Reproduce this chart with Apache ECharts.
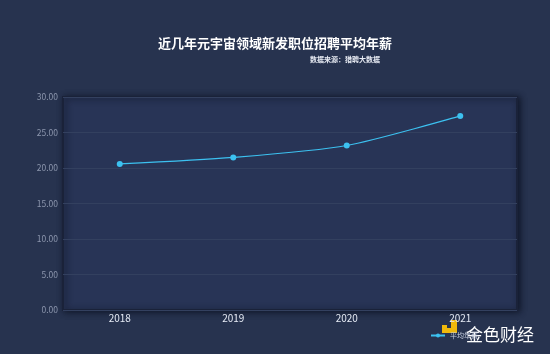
<!DOCTYPE html>
<html>

<head>
	<meta charset="UTF-8">
	<title></title>
	<style>
		html, body {
			margin: 0;
			padding: 0;
			background: #27334f;
		}
		div {
			width: 550px;
			height: 354px;
		}
	</style>
	<script src="https://cdn.jsdelivr.net/npm/echarts@6/dist/echarts.min.js"></script>
</head>

<body>
	<div id="chart1"></div>
	<script>
		var years = ['2018', '2019', '2020', '2021'];
		var salary = [20.57, 21.49, 23.17, 27.34];	// 万元
		var yTicks = [0, 5, 10, 15, 20, 25, 30];

		var myChart = echarts.init(document.getElementById('chart1'));
		myChart.setOption({
			animation: false,
			backgroundColor: '#27334f',
			textStyle: {
				fontFamily: '"Noto Sans CJK SC", "Noto Sans", sans-serif'
			},
			title: [
				{
					text: '近几年元宇宙领域新发职位招聘平均年薪',
					left: 'center',
					top: 32,
					textStyle: {
						color: '#ffffff',
						fontSize: 13,
						fontWeight: 'bold'
					}
				},
				{
					text: '数据来源：猎聘大数据',
					left: 305,
					top: 51,
					textStyle: {
						color: '#e8ecf4',
						fontSize: 7,
						fontWeight: 'bold'
					}
				}
			],
			legend: {
				left: 425,
				top: 327,
				itemWidth: 14,
				itemHeight: 5,
				itemGap: 4,
				textStyle: {
					color: '#c8d0e0',
					fontSize: 7
				},
				data: ['平均年薪']
			},
			grid: {
				left: 63,
				right: 33,
				top: 97,
				bottom: 44,
				show: true,
				backgroundColor: '#283456',
				borderColor: '#1a2239',
				borderWidth: 2,
				shadowColor: 'rgba(10, 15, 30, 0.8)',
				shadowBlur: 6,
				shadowOffsetX: 2,
				shadowOffsetY: 1
			},
			xAxis: {
				type: 'category',
				data: years,
				boundaryGap: true,
				axisLine: { show: false },
				axisTick: { show: false },
				axisLabel: {
					color: '#e6ebf5',
					fontSize: 10,
					margin: 3
				}
			},
			yAxis: {
				type: 'value',
				min: yTicks[0],
				max: yTicks[yTicks.length - 1],
				interval: 5,
				axisLine: { show: false },
				axisTick: { show: false },
				axisLabel: {
					color: '#8c96ad',
					fontSize: 8.5,
					margin: 5,
					formatter: function (v) {
						return v.toFixed(2);
					}
				},
				splitLine: {
					lineStyle: {
						color: '#33405f',
						width: 1
					}
				}
			},
			series: [
				{
					name: '平均年薪',
					type: 'line',
					data: salary,
					smooth: 0.25,
					symbol: 'circle',
					symbolSize: 6,
					itemStyle: {
						color: '#3cc1f0'
					},
					lineStyle: {
						color: '#3cc1f0',
						width: 1.2
					}
				}
			],
			graphic: [
				// watermark logo
				{
					type: 'rect',
					left: 451,
					top: 320,
					shape: { width: 6, height: 13 },
					style: { fill: '#f0b90b' }
				},
				{
					type: 'rect',
					left: 442,
					top: 328,
					shape: { width: 15, height: 5 },
					style: { fill: '#f0b90b' }
				},
				{
					type: 'rect',
					left: 442,
					top: 325,
					shape: { width: 5, height: 4 },
					style: { fill: '#f0b90b' }
				},
				{
					type: 'text',
					left: 466,
					top: 326,
					style: {
						text: '金色财经',
						fill: '#ffffff',
						font: '17px "Noto Sans CJK SC"'
					}
				}
			]
		});
	</script>
</body>

</html>
